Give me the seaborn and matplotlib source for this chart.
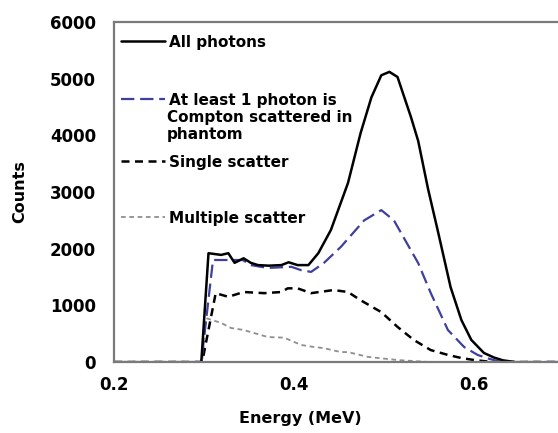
import matplotlib
matplotlib.use("Agg")
import matplotlib.pyplot as plt
import seaborn as sns
from matplotlib.lines import Line2D
from matplotlib.legend import Legend

# ---- data ----
all_E = [0.297, 0.305, 0.319, 0.327, 0.334, 0.344, 0.352, 0.36, 0.372, 0.386, 0.394, 0.404,
         0.416, 0.427, 0.441, 0.46, 0.474, 0.486, 0.497, 0.506, 0.515, 0.53, 0.538, 0.549,
         0.56, 0.574, 0.586, 0.597, 0.611, 0.622, 0.632, 0.645]
all_C = [0, 1920, 1890, 1920, 1750, 1830, 1750, 1710, 1700, 1710, 1760, 1710,
         1710, 1920, 2330, 3160, 4040, 4670, 5060, 5120, 5030, 4320, 3900, 3050,
         2300, 1320, 740, 390, 160, 80, 30, 0]

comp_E = [0.2, 0.297, 0.31, 0.327, 0.343, 0.352, 0.371, 0.397, 0.408, 0.419, 0.433, 0.452,
          0.478, 0.497, 0.511, 0.538, 0.552, 0.571, 0.589, 0.604, 0.616, 0.63, 0.695]
comp_C = [0, 0, 1800, 1800, 1800, 1710, 1660, 1680, 1620, 1590, 1745, 2030,
          2500, 2680, 2500, 1745, 1215, 565, 265, 125, 60, 0, 0]

single_E = [0.2, 0.298, 0.313, 0.327, 0.344, 0.367, 0.386, 0.393, 0.404, 0.419, 0.444, 0.46,
            0.474, 0.497, 0.515, 0.533, 0.552, 0.571, 0.586, 0.6, 0.62, 0.695]
single_C = [0, 0, 1215, 1150, 1235, 1215, 1235, 1300, 1300, 1215, 1270, 1235,
            1090, 880, 620, 390, 210, 125, 70, 35, 0, 0]

multi_E = [0.2, 0.298, 0.302, 0.319, 0.33, 0.344, 0.371, 0.389, 0.408, 0.422, 0.433, 0.452,
           0.46, 0.482, 0.515, 0.55, 0.695]
multi_C = [0, 0, 775, 690, 600, 565, 440, 430, 300, 265, 245, 175,
           175, 90, 35, 0, 0]

labels = ["All photons", "At least 1 photon is", "Compton scattered in\nphantom",
          "Single scatter", "Multiple scatter"]
x_ticks = [0.2, 0.4, 0.6]
y_ticks = [0, 1000, 2000, 3000, 4000, 5000, 6000]

# ---- style ----
sns.set_style("white")
plt.rcParams["font.family"] = ["DejaVu Sans"]
plt.rcParams["font.weight"] = "bold"
plt.rcParams["text.color"] = "black"
plt.rcParams["axes.labelcolor"] = "black"
plt.rcParams["xtick.labelcolor"] = "black"
plt.rcParams["ytick.labelcolor"] = "black"

BLUE = "#3f3f9e"
GREY = "#8f8f8f"
SPINE = "#7a7a7a"

fig = plt.figure(figsize=(5.58, 4.33), dpi=100)
ax = fig.add_axes([114 / 558, (433 - 362) / 433, (558 - 114) / 558, 340 / 433])

def draw(E, C, color, lw, dashes=None):
    sns.lineplot(x=E, y=C, ax=ax, color=color, linewidth=lw, estimator=None,
                 sort=False, legend=False)
    ln = ax.lines[-1]
    if dashes is not None:
        ln.set_dashes(dashes)
    return ln

d_multi = (2.6, 2.0)
d_single = (3.2, 2.2)
d_comp = (6.0, 2.6)
draw(multi_E, multi_C, GREY, 1.3, d_multi)
draw(single_E, single_C, "black", 1.8, d_single)
draw(comp_E, comp_C, BLUE, 1.6, d_comp)
draw(all_E, all_C, "black", 1.8)

ax.set_xlim(0.2, 0.2 + 444 / 900)
ax.set_ylim(0, 6000)
ax.set_xticks(x_ticks)
ax.set_xticklabels([f"{v:.1f}" for v in x_ticks])
ax.set_yticks(y_ticks)
ax.set_yticklabels([str(v) for v in y_ticks])

for s in ["left", "bottom", "top"]:
    ax.spines[s].set_color(SPINE)
    ax.spines[s].set_linewidth(1.6)
ax.spines["right"].set_visible(False)

ax.tick_params(axis="y", direction="out", length=5, width=1.2, color=SPINE,
               labelsize=12, pad=8, labelcolor="black")
ax.tick_params(axis="x", direction="in", length=5, width=1.2, color=SPINE,
               labelsize=12, pad=10, labelcolor="black")
for t in ax.get_xticklabels() + ax.get_yticklabels():
    t.set_fontweight("bold")

ax.set_xlabel("Energy (MeV)", fontsize=11.5, fontweight="bold", color="black")
ax.set_ylabel("Counts", fontsize=11.5, fontweight="bold", color="black")
ax.xaxis.set_label_coords((300 - 114) / 444, -0.145)
ax.yaxis.set_label_coords(-0.195, 0.5)

# ---- legend entries placed individually ----
def entry(handle, label, ypx):
    y = (362 - ypx) / 340
    leg = Legend(ax, [handle], [label], loc="center left",
                 bbox_to_anchor=((121 - 114) / 444, y), frameon=False,
                 borderpad=0, borderaxespad=0, handlelength=2.9,
                 handletextpad=0.25, prop={"size": 11, "weight": "bold"},
                 labelcolor="black")
    ax.add_artist(leg)

h_all = Line2D([], [], color="black", lw=1.8)
h_comp = Line2D([], [], color=BLUE, lw=1.6, dashes=d_comp)
h_single = Line2D([], [], color="black", lw=1.8, dashes=d_single)
h_multi = Line2D([], [], color=GREY, lw=1.3, dashes=d_multi)

entry(h_all, labels[0], 42)
entry(h_comp, labels[1], 100)
ax.text((167 - 114) / 444, (362 - 110) / 340, labels[2], transform=ax.transAxes,
        ha="left", va="top", fontsize=11, fontweight="bold", linespacing=1.2,
        color="black")
entry(h_single, labels[3], 162)
entry(h_multi, labels[4], 218)

fig.savefig("out.png", dpi=100)
